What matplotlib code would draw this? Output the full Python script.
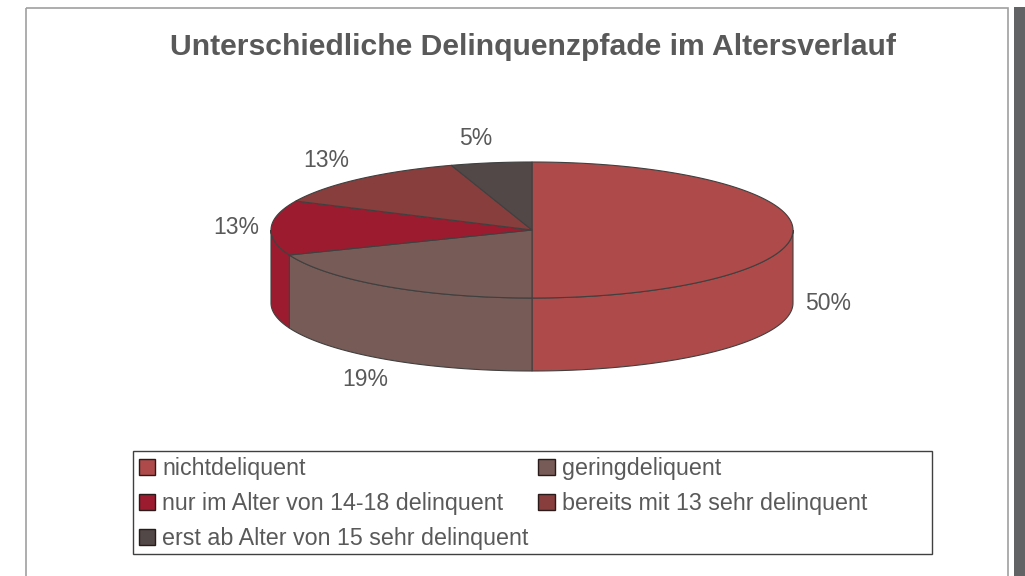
import numpy as np
import matplotlib
matplotlib.use("Agg")
import matplotlib.pyplot as plt
from matplotlib.patches import Polygon, Rectangle, Patch

plt.rcParams['font.family'] = ['Liberation Sans', 'DejaVu Sans']

# data
labels = ['nichtdeliquent', 'geringdeliquent', 'nur im Alter von 14-18 delinquent',
          'bereits mit 13 sehr delinquent', 'erst ab Alter von 15 sehr delinquent']
shares = [50, 19, 13, 13, 5]
colors = ['#ae4a49', '#775b57', '#9d1b2e', '#873e3c', '#524847']

title = 'Unterschiedliche Delinquenzpfade im Altersverlauf'
txt_col = '#595959'
edge = '#404040'

# pie geometry in pixels
cx, cy = 532, 230
rx, ry = 261, 68
depth = 73

fig = plt.figure(figsize=(10.25, 5.76), dpi=100)
ax = fig.add_axes([0, 0, 1, 1])
ax.set_xlim(0, 1025)
ax.set_ylim(576, 0)
ax.axis('off')

# chart frame and the dark bar on the right
ax.add_patch(Rectangle((26, 8), 982, 600, fill=False, edgecolor='#a0a0a0', lw=1.2))
ax.add_patch(Rectangle((1014, 7), 11, 600, color='#626365', lw=0))

ax.text(533, 47, title, ha='center', va='center', fontsize=21.7,
        fontweight='bold', color=txt_col)

def ell(t, dy=0):
    return cx + rx * np.sin(t), cy - ry * np.cos(t) + dy

bounds = np.concatenate([[0], np.cumsum(shares)]) / sum(shares) * 2 * np.pi

# visible side walls (front half)
for i in range(len(shares)):
    a = max(bounds[i], np.pi / 2)
    b = min(bounds[i + 1], 3 * np.pi / 2)
    if a >= b:
        continue
    t = np.linspace(a, b, 120)
    x, y = ell(t)
    xb, yb = ell(t[::-1], depth)
    pts = np.column_stack([np.concatenate([x, xb]), np.concatenate([y, yb])])
    ax.add_patch(Polygon(pts, closed=True, facecolor=colors[i], edgecolor=edge, lw=0.8))

# top faces
for i in range(len(shares)):
    t = np.linspace(bounds[i], bounds[i + 1], 200)
    x, y = ell(t)
    pts = np.column_stack([np.concatenate([[cx], x]), np.concatenate([[cy], y])])
    ax.add_patch(Polygon(pts, closed=True, facecolor=colors[i], edgecolor=edge, lw=0.8))

# data labels
for i, v in enumerate(shares):
    t = (bounds[i] + bounds[i + 1]) / 2
    lx = cx + (rx + 35) * np.sin(t)
    ly = cy - (ry + 25) * np.cos(t)
    if np.cos(t) > 0.3:
        lx -= 10
    if np.sin(t) > 0.3 or np.cos(t) < -0.3:
        ly += depth
    ax.text(lx, ly, f'{v}%', ha='center', va='center', fontsize=16.5, color=txt_col)

# legend: row-wise order in two columns
order = [0, 2, 4, 1, 3]
handles = [Patch(facecolor=colors[k], edgecolor='#2a1a1a', lw=1.0) for k in order]
ax.add_patch(Rectangle((133, 451), 799, 103, fill=False, edgecolor='#404040', lw=1.0))
leg = fig.legend(handles, [labels[k] for k in order], ncol=2,
                 loc='upper left', bbox_to_anchor=(139 / 1025, 1 - 457 / 576),
                 frameon=False, fontsize=16.75, handlelength=0.7, handleheight=0.7,
                 handletextpad=0.3, labelspacing=0.52, columnspacing=0.42,
                 borderpad=0, borderaxespad=0)
for tx in leg.get_texts():
    tx.set_color(txt_col)

fig.savefig('out.png', dpi=100)
